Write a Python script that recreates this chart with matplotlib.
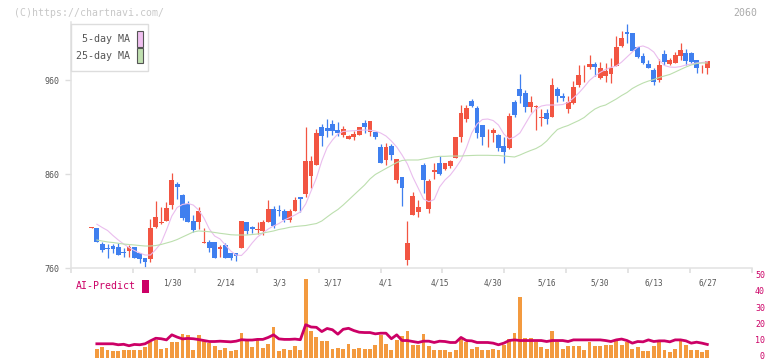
import numpy as np
import matplotlib
matplotlib.use("Agg")
import matplotlib.pyplot as plt
from matplotlib.patches import Rectangle
from matplotlib.transforms import blended_transform_factory

plt.rcParams['font.family'] = ['DejaVu Sans Mono']

# daily OHLC (price)
opens = [803, 803, 785.5, 780.5, 783.4, 782.7, 777, 778.4, 782.7, 776.3,
         771, 769.6, 804, 807.5, 810.3, 827, 849.4, 837.7, 828, 810.3,
         809.3, 786.5, 787.7, 787.7, 779.9, 784.5, 776.3, 775.6, 781, 809,
         804, 800.4, 799.7, 809, 823.1, 821.5, 820.3, 811, 821, 835.2,
         838.7, 858.2, 869.6, 909.7, 908.6, 913.2, 906.8, 901.5, 897.6, 899.7,
         901.5, 914, 905, 904.7, 889, 874.9, 889.8, 853.6, 856.5, 768.5,
         816.4, 819.6, 869.6, 822.8, 862.5, 871.4, 865.6, 868.5, 877.3, 899,
         918.8, 938, 930.2, 912.1, 901, 904, 901.5, 889.8, 887.3, 936.9,
         950.4, 945.9, 931, 931, 920, 924.6, 921, 950.4, 943, 928.8,
         935.9, 954.7, 968, 974.2, 977, 961.8, 964.3, 966.4, 974.9, 996.2,
         1011.3, 1009.6, 995.4, 985.5, 977, 970.6, 960, 987.7, 976.7, 978.4,
         985.5, 989, 989, 981.3, 973.3, 973.1]
highs = [803.5, 803, 788, 785.5, 785.5, 787, 781.6, 784.8, 782.7, 776.3,
         771, 812.5, 831.6, 825, 829.9, 861.4, 851.8, 839, 831, 816.4,
         824.6, 802.9, 789.8, 787.7, 784.8, 786.8, 776.3, 775.6, 810, 809,
         804.7, 808.9, 811, 832.3, 826.2, 826.7, 823, 823, 835.7, 835.2,
         910.3, 879.1, 907.8, 913.2, 918.2, 917, 915, 911, 901.5, 905.3,
         910.3, 917.4, 916.4, 904.7, 891.9, 892.7, 892, 876, 856.5, 810.3,
         840.5, 832.3, 872, 854.7, 872, 879.1, 872, 875, 899.7, 933.4,
         933.4, 940.1, 932.3, 912.1, 907.6, 908.6, 902.6, 899.7, 924.5, 938.7,
         966.4, 949.4, 943, 933.4, 928.8, 929, 961.8, 952.2, 945.9, 943,
         959.3, 976, 976, 986.6, 979.5, 979.5, 977.7, 983.1, 1007.1, 1012.4,
         1019.6, 1009.6, 995.4, 988.3, 981.3, 972.4, 982, 991.9, 983.1, 990.2,
         999.7, 992.7, 990.2, 981.3, 976, 980.2]
lows = [802.5, 788, 777, 771, 776, 773.5, 771.7, 772, 771, 765.6,
        761.4, 766.7, 802.9, 807, 810, 822.8, 833.4, 811, 809, 798.6,
        801.2, 786.5, 777.3, 771, 771.7, 770.3, 768, 767.8, 781, 796,
        797.6, 796.2, 795.3, 809, 803, 815.6, 809, 809, 821, 820,
        835.9, 845.4, 869.6, 889.8, 899.7, 902, 900, 899.7, 897, 896,
        901.5, 904, 900.4, 896.9, 872, 869.6, 874.9, 850.1, 826, 763.2,
        816.4, 814, 840, 818.8, 854.3, 859, 864, 866, 877.3, 894.4,
        915.6, 931, 898, 890.9, 889, 894.4, 884.8, 872, 886.3, 920.3,
        935.9, 926.3, 926.3, 906.8, 911, 913, 921, 936.9, 938, 925.2,
        935, 952.2, 958, 971.4, 964, 960.6, 958, 956.5, 974.9, 995.4,
        999.7, 991.2, 983.1, 976.7, 972.4, 954.7, 958.2, 976, 975.9, 977.7,
        981.3, 976, 977.7, 967.8, 967.1, 966.4]
closes = [803.5, 788, 779, 780, 780.5, 774, 775.6, 782.7, 771, 770,
          766.7, 802.9, 814.3, 809, 823.8, 853.6, 846.5, 812.9, 809.3, 800.4,
          821, 787.5, 781.6, 771, 782.7, 770.3, 770.3, 773.1, 810, 799.7,
          801.9, 801.5, 809, 823.1, 805, 820.6, 811, 820.6, 832.3, 833.4,
          873.8, 873.8, 904, 900.4, 906, 906, 904, 907.8, 900.4, 902.6,
          909.7, 909.7, 916.4, 899.7, 872, 889, 880.2, 876, 844.8, 786.9,
          836.6, 825.2, 853.6, 852.6, 864.5, 860, 872, 874.1, 899.7, 925.2,
          930.2, 932.3, 903.3, 899, 901.5, 906.8, 888, 883.7, 921.7, 922.8,
          943, 931.6, 936.6, 931.6, 920.8, 918.5, 954.7, 943, 940.5, 936.9,
          952.9, 965.3, 968.5, 977, 974.2, 972.4, 969.9, 972.4, 995.4, 1004.3,
          1009.4, 991.2, 984.8, 977.8, 973.1, 958.2, 976, 979.5, 981.3, 986.6,
          991.9, 980.2, 979.5, 973.1, 973.5, 980.2]

# moving averages as drawn on the chart
ma5 = [np.nan, 806.6, 803.1, 799.9, 794.6, 789.8, 785.5, 781.8, 778.6, 776,
       773.8, 773.8, 779.7, 786.6, 800.4, 815.3, 824.4, 827.6, 828.6, 827,
       821.7, 813.2, 801.5, 794, 790.9, 784.5, 778.1, 773.8, 773.3, 779.1,
       786.6, 793, 797.2, 801.5, 804.7, 807.3, 811, 813.7, 816.4, 819.6,
       828.1, 841.9, 855.7, 873.8, 888.2, 896.2, 902.6, 905.3, 905.7, 906.1,
       906.5, 906.8, 906.5, 905.7, 903.6, 900.4, 895.1, 888.7, 880.2, 870.6,
       856.8, 845.1, 833.4, 830.5, 832.9, 846.2, 853.6, 858.9, 866.4, 874.9,
       887.7, 903.6, 913.2, 918, 918.5, 916.9, 912.1, 902.6, 897.2, 899.4,
       903.6, 913.2, 922.8, 929.1, 932.3, 933.4, 933.4, 933.4, 933.9, 936.1,
       940.9, 946.2, 952.6, 959.6, 964.3, 968.1, 971.2, 973.4, 974.9, 979.1,
       984.5, 989.8, 995.1, 996.2, 994, 989.8, 981.3, 975.4, 973.8, 973.5,
       974.3, 976, 977, 978.1, 978.6, 979.5]
ma25 = [np.nan, 789.8, 788.7, 787.7, 787.1, 786.3, 785.5, 785, 784.5, 783.9,
        783.4, 783.4, 783.9, 785, 786.6, 788.2, 790.3, 793, 795.6, 798.3,
        799.4, 799, 798.6, 797.8, 796.9, 796.2, 795.4, 795.1, 795.1, 795.1,
        795.6, 796.2, 797.2, 798.3, 799.4, 801, 802, 803.3, 804.1, 804.7,
        805.2, 806.3, 807.3, 810, 814.3, 818.5, 822.2, 827, 832.3, 837.7,
        843, 848.3, 854.7, 859.5, 862.7, 865.9, 869, 872.2, 874.4, 874.9,
        874.9, 874.9, 876, 877, 878.1, 878.8, 878.8, 879.1, 879.1, 879.1,
        879.5, 879.7, 879.9, 879.9, 879.9, 879.7, 879.7, 879.1, 878.6, 878.1,
        880.2, 882.7, 885, 887.1, 890.3, 895.1, 901.5, 907.3, 909.7, 911.6,
        914.3, 916.9, 920.1, 924.9, 929.1, 931.8, 933.4, 936.6, 939.8, 943.5,
        946.7, 951, 954.1, 956.8, 958.9, 960.5, 962.7, 964.3, 965.9, 968.5,
        971.2, 973.8, 976, 977.5, 978.1, 978.1]

# lower panel: volume bars and AI-Predict line
volume = [0, 5.8, 7.2, 5.2, 4.2, 4.2, 4.8, 5.2, 5.2, 4.8,
          7.2, 9.7, 11.3, 5.8, 6.4, 9.7, 9.7, 15, 14.4, 5.2,
          14.4, 10.7, 9.3, 7.7, 5.2, 6.6, 4.2, 4.8, 15.8, 10.7,
          7.2, 11.8, 6.6, 8.5, 19.5, 4.2, 5.8, 4.8, 7.7, 4.8,
          48.8, 16.9, 12.8, 10.7, 10.7, 5.8, 6.4, 5.8, 8.9, 5.8,
          6.4, 5.8, 5.8, 8.3, 14.4, 8.9, 4.8, 11.3, 13.4, 16.9,
          7.9, 7.9, 15, 7.7, 5.2, 5.2, 5.2, 3.6, 5.2, 11.8,
          9.7, 5.8, 6.9, 4.8, 5.2, 5.8, 5.2, 8.3, 11.8, 15.8,
          37.9, 12.3, 12.3, 9.7, 7.2, 5.8, 16.9, 9.7, 5.8, 7.7,
          7.7, 7.7, 4.8, 9.7, 7.7, 7.7, 8.3, 8.3, 10.9, 8.3,
          9.7, 5.8, 6.9, 4.2, 4.2, 7.7, 9.7, 4.8, 3.6, 5.8,
          10.7, 8.3, 4.8, 5.2, 3.6, 5.2]
ai_predict = [np.nan, 8.9, 8.9, 8.9, 8.9, 8.3, 8.6, 7.7, 8.5, 8.3,
              8.9, 10.7, 12.3, 12.0, 11.3, 14.4, 13.0, 11.9, 12.2, 12.0,
              11.5, 10.9, 10.3, 10.3, 10.5, 10.3, 10.1, 10.5, 11.4, 11.2,
              11.2, 11.6, 11.6, 12.8, 14.4, 11.9, 11.6, 11.6, 11.8, 11.4,
              20.6, 19.2, 19.0, 16.4, 18.3, 17.5, 14.8, 17.8, 18.4, 17.0,
              16.0, 15.8, 15.8, 15.0, 15.4, 15.4, 12.0, 14.4, 10.9, 10.9,
              10.3, 9.7, 10.5, 10.5, 9.7, 10.5, 10.3, 9.7, 9.7, 12.8,
              10.9, 10.7, 9.7, 9.7, 9.7, 9.3, 8.3, 9.3, 10.9, 11.3,
              10.9, 10.9, 10.9, 10.9, 10.9, 10.3, 10.9, 10.9, 10.9, 10.3,
              11.3, 11.3, 11.3, 11.3, 11.3, 11.3, 10.9, 10.3, 11.3, 11.8,
              10.9, 9.3, 10.3, 10.1, 11.3, 10.3, 10.7, 10.7, 10.1, 11.3,
              11.3, 10.7, 9.3, 9.9, 9.3, 8.5]

date_labels = ['1/30', '2/14', '3/3', '3/17', '4/1', '4/15', '4/30', '5/16', '5/30', '6/13', '6/27']
date_idx = [15, 25, 35, 45, 55, 65, 75, 85, 95, 105, 115]
price_ticks = [760, 860, 960]
pred_ticks = [0, 10, 20, 30, 40, 50]

RED = '#f25542'
BLUE = '#3f7fef'
MAGENTA = '#cc0066'

W, H = 772, 361
fig = plt.figure(figsize=(W / 100, H / 100), dpi=100)

o = np.array(opens); c = np.array(closes)
hi = np.array(highs); lo = np.array(lows)
x = np.arange(len(o))
xlo = (71 - 91.5) / 5.355
xhi = (752 - 91.5) / 5.355

# main price panel
ax = fig.add_axes([71 / W, (H - 268) / H, 681 / W, 246 / H])
cols = np.where(c >= o, RED, BLUE)
ax.vlines(x, lo, hi, colors=cols, lw=0.9, zorder=2)
ax.bar(x, np.maximum(np.abs(c - o), 1.0), bottom=np.minimum(o, c), width=0.9,
       color=cols, linewidth=0, zorder=2)
ax.plot(x, ma5, color='#eabdee', lw=0.8, zorder=3)
ax.plot(x, ma25, color='#bcdfae', lw=0.8, zorder=3)

ax.set_xlim(xlo, xhi)
ax.set_ylim(760, 760 + 246 / 0.94)
ax.set_yticks(price_ticks)
ax.set_xticks(np.linspace(xlo, xhi, 12))
ax.set_xticklabels([])
ax.tick_params(axis='y', direction='out', length=4.3, width=1, color='#dddddd',
               labelcolor='#555555', labelsize=6, pad=4)
ax.tick_params(axis='x', direction='out', length=3.6, width=1.1, color='#dddddd')
for s in ['top', 'right']:
    ax.spines[s].set_visible(False)
for s in ['left', 'bottom']:
    ax.spines[s].set_color('#e2e2e2')
    ax.spines[s].set_linewidth(1.1)

# lower panel
ax2 = fig.add_axes([71 / W, (H - 358.3) / H, 681 / W, 86.3 / H])
ax2.bar(x, volume, width=0.72, color='#f39a3f', linewidth=0)
ax2.plot(x, ai_predict, color=MAGENTA, lw=2.0)
ax2.set_xlim(xlo, xhi)
ax2.set_ylim(0, 86.3 / 1.63)
ax2.axis('off')
tr = blended_transform_factory(ax2.transAxes, ax2.transData)
for v in pred_ticks:
    ax2.text((765 - 71) / 681, v + 0.8, str(v), transform=tr, ha='right', va='center',
             fontsize=6, color=MAGENTA)
for i, lab in zip(date_idx, date_labels):
    ax2.text(i, (358.3 - 283) / 1.63, lab, ha='center', va='center',
             fontsize=5.6, color='#555555')

# header texts
fig.text(14 / W, 1 - 12.7 / H, '(C)https://chartnavi.com/', fontsize=7.1,
         color='#c8c8c8', va='center')
fig.text(757 / W, 1 - 12.7 / H, '2060', fontsize=7.1, color='#aaaaaa',
         ha='right', va='center')

# legend box
fig.patches.append(Rectangle((70.5 / W, 1 - 71 / H), 77.5 / W, 47 / H,
                             transform=fig.transFigure, facecolor='white',
                             edgecolor='#dddddd', lw=1, zorder=5))
fig.text(130 / W, 1 - 39 / H, '5-day MA', fontsize=7.2, color='#555555',
         ha='right', va='center', zorder=6)
fig.text(130 / W, 1 - 56 / H, '25-day MA', fontsize=7.2, color='#555555',
         ha='right', va='center', zorder=6)
fig.patches.append(Rectangle((137 / W, 1 - 46.5 / H), 5.5 / W, 15 / H,
                             transform=fig.transFigure, facecolor='#f0c0f0',
                             edgecolor='#555555', lw=0.8, zorder=6))
fig.patches.append(Rectangle((137 / W, 1 - 63.3 / H), 5.5 / W, 15 / H,
                             transform=fig.transFigure, facecolor='#c0e0b0',
                             edgecolor='#555555', lw=0.8, zorder=6))

# AI-Predict label
fig.text(76 / W, 1 - 286 / H, 'AI-Predict', fontsize=7.1, color=MAGENTA, va='center')
fig.patches.append(Rectangle((142 / W, 1 - 293 / H), 6.5 / W, 13 / H,
                             transform=fig.transFigure, facecolor=MAGENTA,
                             edgecolor='none', zorder=5))

fig.savefig('out.png', dpi=100)
